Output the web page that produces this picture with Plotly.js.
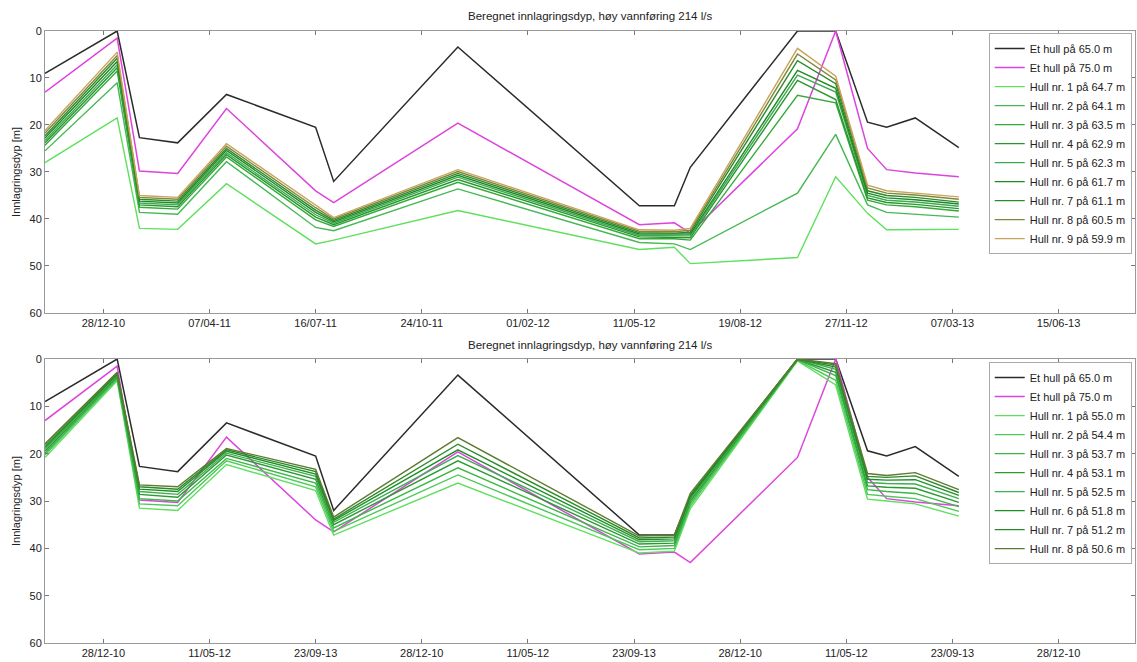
<!DOCTYPE html>
<html><head><meta charset="utf-8">
<script src="https://cdn.plot.ly/plotly-3.0.1.min.js"></script>
<style>html,body{margin:0;padding:0;background:#fff}#chart{width:1137px;height:662px}</style>
</head><body><div id="chart"></div>
<script>
// ---- data ----
const dates = ['2010-11-03','2011-01-10','2011-01-31','2011-03-08','2011-04-23','2011-07-16','2011-08-02','2011-11-27','2012-05-16','2012-06-18','2012-07-03','2012-10-12','2012-11-17','2012-12-17','2013-01-04','2013-01-31','2013-03-13'];

const hull65 = [9, 0, 22.7, 23.8, 13.5, 20.5, 32, 3.4, 37.2, 37.2, 29, 0, 0, 19.4, 20.5, 18.5, 24.8];
const hull75 = [13, 1.5, 29.8, 30.3, 16.5, 34, 36.5, 19.6, 41.2, 40.8, 43, 20.8, 0, 25, 29.5, 30.2, 31];

// upper panel: holes 1-9
const topHull1 = [28, 18.5, 42, 42.2, 32.5, 45.3, 44.5, 38.2, 46.5, 46, 49.5, 48.2, 31, 38.8, 42.3, 42.3, 42.2];
const topHull2 = [25.5, 11, 38.6, 39, 27.8, 41.8, 42.5, 33.6, 45, 45.3, 46.5, 34.5, 22, 37, 38.6, 39, 39.6];
const topHull3 = [24.3, 8.5, 37.5, 37.9, 26.8, 40.2, 41.6, 32.2, 44.2, 44.2, 44.5, 13.7, 15.3, 36, 37, 37.4, 38.3];
const topHull4 = [23.8, 7.8, 37, 37.4, 26.3, 39.6, 41.2, 31.6, 43.8, 43.9, 44, 10.5, 14.6, 35.5, 36.5, 36.9, 37.8];
const topHull5 = [23.3, 7.2, 36.6, 37, 25.9, 39.1, 40.9, 31.1, 43.5, 43.6, 43.6, 9.4, 13, 35, 36, 36.4, 37.3];
const topHull6 = [22.8, 6.5, 36.2, 36.6, 25.4, 38.6, 40.6, 30.7, 43.2, 43.3, 43.2, 8.4, 12.2, 34.5, 35.5, 35.9, 36.8];
const topHull7 = [22.3, 5.8, 35.8, 36.2, 25, 38.1, 40.3, 30.3, 42.9, 43, 42.8, 6.3, 11.2, 34, 35, 35.4, 36.4];
const topHull8 = [21.7, 5.2, 35.4, 35.8, 24.5, 37.6, 40, 29.9, 42.6, 42.7, 42.4, 4.9, 10.4, 33.4, 34.5, 34.9, 35.8];
const topHull9 = [21.2, 4.5, 35, 35.4, 24, 37.2, 39.7, 29.5, 42.3, 42.4, 42, 3.7, 9.6, 32.8, 34, 34.5, 35.3];

// lower panel: holes 1-8
const botHull1 = [20.8, 4.6, 31.5, 32, 22.3, 27.8, 37.2, 26.2, 41, 40.6, 31.6, 0.4, 5.5, 29.6, 30, 30.6, 33.2];
const botHull2 = [20.3, 4.3, 30.6, 31, 21.5, 27, 36.4, 24.5, 40.3, 40, 31, 0.3, 4.5, 28.6, 29, 29.5, 32.2];
const botHull3 = [19.9, 4, 29.5, 30, 21, 26.2, 35.7, 23, 39.7, 39.4, 30.5, 0.2, 3.5, 27.6, 28, 28.4, 31.2];
const botHull4 = [19.5, 3.7, 28.6, 29.2, 20.3, 25.4, 35, 21.5, 39.1, 38.9, 30, 0.1, 2.8, 26.8, 27.1, 27.3, 30.3];
const botHull5 = [19.1, 3.4, 28, 28.6, 19.9, 24.8, 34.5, 20.4, 38.6, 38.4, 29.6, 0, 2.2, 26.1, 26.3, 26.4, 29.5];
const botHull6 = [18.7, 3.2, 27.5, 28, 19.5, 24.3, 34.1, 19.2, 38.2, 38, 29.2, 0, 1.7, 25.4, 25.6, 25.5, 28.8];
const botHull7 = [18.3, 3, 27, 27.5, 19.2, 23.8, 33.8, 18, 37.8, 37.6, 28.8, 0, 1.3, 24.8, 25, 24.7, 28.2];
const botHull8 = [17.9, 2.8, 26.6, 27, 18.9, 23.3, 33.4, 16.6, 37.4, 37.2, 28.4, 0, 1, 24.2, 24.6, 24, 27.6];

const refNames = ['Et hull på 65.0 m', 'Et hull på 75.0 m'];
const topNames = ['Hull nr. 1 på 64.7 m','Hull nr. 2 på 64.1 m','Hull nr. 3 på 63.5 m','Hull nr. 4 på 62.9 m','Hull nr. 5 på 62.3 m','Hull nr. 6 på 61.7 m','Hull nr. 7 på 61.1 m','Hull nr. 8 på 60.5 m','Hull nr. 9 på 59.9 m'];
const botNames = ['Hull nr. 1 på 55.0 m','Hull nr. 2 på 54.4 m','Hull nr. 3 på 53.7 m','Hull nr. 4 på 53.1 m','Hull nr. 5 på 52.5 m','Hull nr. 6 på 51.8 m','Hull nr. 7 på 51.2 m','Hull nr. 8 på 50.6 m'];

const tickDates = ['2010-12-28','2011-04-07','2011-07-16','2011-10-24','2012-02-01','2012-05-11','2012-08-19','2012-11-27','2013-03-07','2013-06-15'];
const topTickText = ['28/12-10','07/04-11','16/07-11','24/10-11','01/02-12','11/05-12','19/08-12','27/11-12','07/03-13','15/06-13'];
const botTickText = ['28/12-10','11/05-12','23/09-13','28/12-10','11/05-12','23/09-13','28/12-10','11/05-12','23/09-13','28/12-10'];
const yTicks = [0, 10, 20, 30, 40, 50, 60];

const titleText = 'Beregnet innlagringsdyp, høy vannføring 214 l/s';
const yTitle = 'Innlagringsdyp [m]';

// ---- styles ----
const refColors = ['#2b2b2b', '#dd44dd'];
const topColors = ['#5ee05e','#44b853','#33aa38','#27962c','#3daa52','#1e8a22','#2b8a2b','#7c8a3a','#c9a35c'];
const botColors = ['#5ee05e','#4cc85a','#3ab844','#2a9a30','#3fae55','#1f8f23','#2a8a2a','#5e7a30'];

const topSeries = [topHull1, topHull2, topHull3, topHull4, topHull5, topHull6, topHull7, topHull8, topHull9];
const botSeries = [botHull1, botHull2, botHull3, botHull4, botHull5, botHull6, botHull7, botHull8];

const traces = [];
function addPanel(series, names, colors, xa, ya, leg) {
  traces.push({x: dates, y: hull65, name: refNames[0], type: 'scatter', mode: 'lines',
    line: {color: refColors[0], width: 1.5}, xaxis: xa, yaxis: ya, legend: leg});
  traces.push({x: dates, y: hull75, name: refNames[1], type: 'scatter', mode: 'lines',
    line: {color: refColors[1], width: 1.5}, xaxis: xa, yaxis: ya, legend: leg});
  series.forEach((s, i) => traces.push({x: dates, y: s, name: names[i], type: 'scatter', mode: 'lines',
    line: {color: colors[i], width: 1.4}, xaxis: xa, yaxis: ya, legend: leg}));
}
addPanel(topSeries, topNames, topColors, 'x', 'y', 'legend');
addPanel(botSeries, botNames, botColors, 'x2', 'y2', 'legend2');

const fontFam = 'Liberation Sans, Arial, sans-serif';
const xRange = ['2010-11-03', '2013-08-26'];
function xaxisCfg(text, anchor) {
  return {type: 'date', range: xRange, tickmode: 'array', tickvals: tickDates, ticktext: text,
    ticks: 'inside', ticklen: 4, tickcolor: '#777', showline: true, linecolor: '#999', linewidth: 1,
    mirror: 'ticks', showgrid: false, zeroline: false, anchor: anchor, domain: [0, 1],
    tickfont: {size: 11, color: '#222', family: fontFam}, automargin: false};
}
function yaxisCfg(domain, anchor) {
  return {range: [60, 0], tickmode: 'array', tickvals: yTicks, ticks: 'inside', ticklen: 4, tickcolor: '#777',
    showline: true, linecolor: '#999', linewidth: 1, mirror: 'ticks', showgrid: false, zeroline: false,
    domain: domain, anchor: anchor, tickfont: {size: 11, color: '#222', family: fontFam}, automargin: false,
    title: {text: yTitle, font: {size: 11, color: '#222', family: fontFam}, standoff: 6}};
}
function legendCfg(ytop) {
  return {x: 0.997, xanchor: 'right', y: ytop, yanchor: 'top', bgcolor: '#fff', bordercolor: '#aaa', borderwidth: 1,
    font: {size: 11, color: '#222', family: fontFam}, itemwidth: 30, tracegroupgap: 0};
}

const layout = {
  width: 1137, height: 662, paper_bgcolor: '#fff', plot_bgcolor: '#fff',
  margin: {l: 45, r: 2, t: 0, b: 0}, showlegend: true,
  font: {family: fontFam, size: 11, color: '#222'},
  xaxis: xaxisCfg(topTickText, 'y'),
  yaxis: yaxisCfg([0.5272, 0.9532], 'x'),
  xaxis2: xaxisCfg(botTickText, 'y2'),
  yaxis2: yaxisCfg([0.0287, 0.4577], 'x2'),
  legend: legendCfg(0.950),
  legend2: legendCfg(0.453),
  annotations: [
    {text: titleText, xref: 'paper', yref: 'paper', x: 0.5, y: 1 - 16/662, xanchor: 'center', yanchor: 'middle',
     showarrow: false, font: {size: 11.5, color: '#222', family: fontFam}},
    {text: titleText, xref: 'paper', yref: 'paper', x: 0.5, y: 1 - 345/662, xanchor: 'center', yanchor: 'middle',
     showarrow: false, font: {size: 11.5, color: '#222', family: fontFam}}
  ]
};

Plotly.newPlot('chart', traces, layout, {displayModeBar: false, responsive: false});
</script></body></html>
